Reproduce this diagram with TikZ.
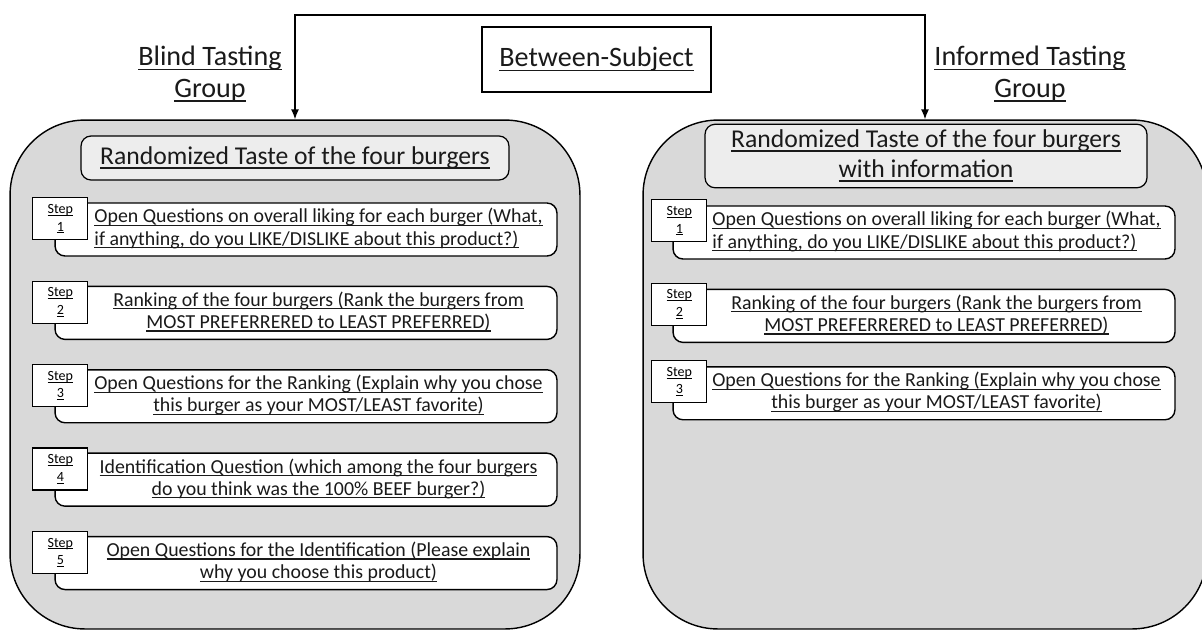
\documentclass[tikz,border=0pt]{standalone}
\usepackage{fontspec}
\setmainfont{Carlito}
\usetikzlibrary{positioning, arrows.meta}
\definecolor{panelgray}{HTML}{D9D9D9}
\definecolor{headgray}{HTML}{EDEDED}
\definecolor{inkgray}{HTML}{1A1A1A}
% underline that runs through the descenders
\newcommand{\ulx}[1]{\setbox0\hbox{#1}\rlap{\vrule height -0.1em depth 0.16em width \wd0}\box0}
% two underlined lines, pushed a bit to the right of the tag
\newcommand{\steplines}[3][c]{\kern0.5cm\begin{tabular}{@{}#1@{}}\ulx{#2}\\\ulx{#3}\end{tabular}}

\begin{document}
\begin{tikzpicture}[x=0.02cm, y=-0.02cm, node distance = 0.58cm,
    panel/.style = {draw, fill=panelgray, line width=0.8pt,
                    rounded corners=1.5cm},
    headbox/.style = {draw, fill=headgray, line width=0.7pt,
                    rounded corners=0.2cm, align=center, text=inkgray,
                    font=\fontsize{14.6}{17}\selectfont},
    stepbox/.style = {draw, fill=white, line width=0.8pt,
                    rounded corners=0.2cm, text=inkgray,
                    minimum width=10.04cm, minimum height=1.06cm,
                    inner ysep=1pt, font=\fontsize{11.3}{12.6}\selectfont},
    steptag/.style = {draw, fill=white, line width=0.6pt,
                    minimum width=1.1cm, minimum height=0.84cm,
                    inner sep=1pt, align=center, anchor=north west,
                    font=\fontsize{8}{10}\selectfont},
    grouplabel/.style = {align=center, text=inkgray,
                    font=\fontsize{16}{18}\selectfont},
    flowline/.style = {line width=0.8pt, {Latex[length=2mm,width=1.6mm]}-{Latex[length=2mm,width=1.6mm]}}
                            ]
    \useasboundingbox (0,0) rectangle (1202,630);

    % the two groups
    \node (blind)    [panel, minimum width=11.4cm, minimum height=10.18cm] at (295,374.5) {};
    \node (informed) [panel, minimum width=11.28cm, minimum height=10.18cm] at (925,374.5) {};

    \node (subject) [draw, line width=0.7pt, minimum width=4.58cm, minimum height=1.3cm,
                     grouplabel] at (596.5,59.5) {\ulx{Between-Subject}};
    \node (blindlab) [grouplabel] at (210,74) {\ulx{Blind Tasting}\\\ulx{Group}};
    \node (inflab)   [grouplabel] at (1030,74) {\ulx{Informed Tasting}\\\ulx{Group}};

    \coordinate (split) at (611,15);
    \draw[flowline] (blind.north) |- (split) -| (informed.north);

    % blind tasting steps
    \node (bhead) [headbox, minimum width=8.56cm, minimum height=0.88cm] at (295,158)
        {\ulx{Randomized Taste of the four burgers}};
    \node (b1) [stepbox] at (306,229.5)
        {\steplines[l]{Open Questions on overall liking for each burger (What,}
                      {if anything, do you LIKE/DISLIKE about this product?)}};
    \node (b2) [stepbox, below=of b1]
        {\steplines{Ranking of the four burgers (Rank the burgers from}
                   {MOST PREFERRERED to LEAST PREFERRED)}};
    \node (b3) [stepbox, below=of b2]
        {\steplines{Open Questions for the Ranking (Explain why you chose}
                   {this burger as your MOST/LEAST favorite)}};
    \node (b4) [stepbox, below=of b3]
        {\steplines{Identification Question (which among the four burgers}
                   {do you think was the 100\% BEEF burger?)}};
    \node (b5) [stepbox, below=of b4]
        {\steplines{Open Questions for the Identification (Please explain}
                   {why you choose this product)}};

    \node (bt1) [steptag] at ([xshift=-0.44cm, yshift=0.1cm]b1.north west) {\ulx{Step}\\\ulx{1}};
    \node (bt2) [steptag] at ([xshift=-0.44cm, yshift=0.1cm]b2.north west) {\ulx{Step}\\\ulx{2}};
    \node (bt3) [steptag] at ([xshift=-0.44cm, yshift=0.1cm]b3.north west) {\ulx{Step}\\\ulx{3}};
    \node (bt4) [steptag] at ([xshift=-0.44cm, yshift=0.1cm]b4.north west) {\ulx{Step}\\\ulx{4}};
    \node (bt5) [steptag] at ([xshift=-0.44cm, yshift=0.1cm]b5.north west) {\ulx{Step}\\\ulx{5}};

    % informed tasting steps
    \node (ihead) [headbox, minimum width=8.84cm, minimum height=1.14cm] at (926,156)
        {\ulx{Randomized Taste of the four burgers}\\\ulx{with information}};
    \node (i1) [stepbox] at (924,232.5)
        {\steplines[l]{Open Questions on overall liking for each burger (What,}
                      {if anything, do you LIKE/DISLIKE about this product?)}};
    \node (i2) [stepbox, below=of i1]
        {\steplines{Ranking of the four burgers (Rank the burgers from}
                   {MOST PREFERRERED to LEAST PREFERRED)}};
    \node (i3) [stepbox, below=0.46cm of i2]
        {\steplines{Open Questions for the Ranking (Explain why you chose}
                   {this burger as your MOST/LEAST favorite)}};

    \node (it1) [steptag] at ([xshift=-0.42cm, yshift=0.12cm]i1.north west) {\ulx{Step}\\\ulx{1}};
    \node (it2) [steptag] at ([xshift=-0.42cm, yshift=0.12cm]i2.north west) {\ulx{Step}\\\ulx{2}};
    \node (it3) [steptag] at ([xshift=-0.42cm, yshift=0.12cm]i3.north west) {\ulx{Step}\\\ulx{3}};
\end{tikzpicture}
\end{document}
